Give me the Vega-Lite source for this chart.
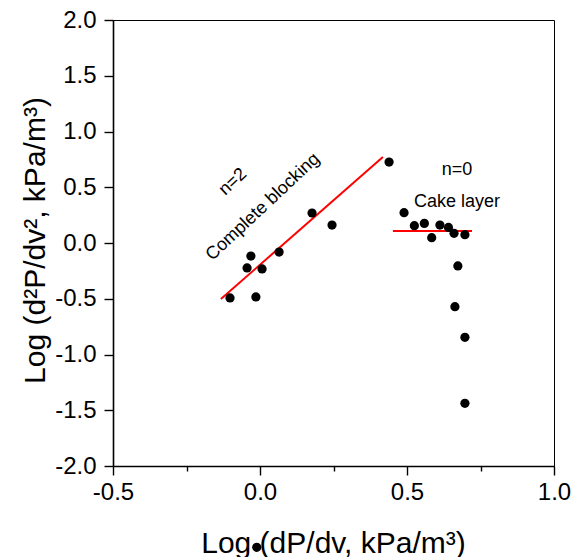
{
  "$schema": "https://vega.github.io/schema/vega-lite/v6.json",
  "width": 441,
  "height": 446,
  "autosize": {"type": "none"},
  "padding": {"left": 113, "top": 20, "right": 20, "bottom": 91},
  "background": "white",
  "config": {
    "font": "Liberation Sans",
    "view": {"stroke": "black", "strokeWidth": 1},
    "axis": {
      "domainColor": "black",
      "domainWidth": 1.6,
      "tickColor": "black",
      "tickWidth": 1.4,
      "grid": false,
      "labelFont": "Liberation Sans",
      "labelFontSize": 24,
      "labelColor": "black",
      "titleFont": "Liberation Sans",
      "titleFontWeight": "normal",
      "titleColor": "black",
      "titleFontSize": 30
    }
  },
  "datasets": {
    "pts": [
      {"x": -0.102, "y": -0.493},
      {"x": -0.014, "y": -0.484},
      {"x": -0.044, "y": -0.224},
      {"x": -0.031, "y": -0.117},
      {"x": 0.007, "y": -0.233},
      {"x": 0.065, "y": -0.081},
      {"x": 0.177, "y": 0.269},
      {"x": 0.245, "y": 0.161},
      {"x": 0.439, "y": 0.726},
      {"x": 0.490, "y": 0.272},
      {"x": 0.525, "y": 0.155},
      {"x": 0.559, "y": 0.176},
      {"x": 0.584, "y": 0.048},
      {"x": 0.612, "y": 0.161},
      {"x": 0.641, "y": 0.140},
      {"x": 0.660, "y": 0.087},
      {"x": 0.697, "y": 0.075},
      {"x": 0.673, "y": -0.206},
      {"x": 0.663, "y": -0.571},
      {"x": 0.697, "y": -0.846},
      {"x": 0.697, "y": -1.438},
      {"x": -0.011, "y": -2.729}
    ],
    "fits": [
      {"fit": "blocking", "x": -0.133, "y": -0.502},
      {"fit": "blocking", "x": 0.418, "y": 0.771},
      {"fit": "cake", "x": 0.452, "y": 0.108},
      {"fit": "cake", "x": 0.721, "y": 0.108}
    ],
    "labels": [
      {"label": "n=2", "x": -0.092, "y": 0.547, "angle": -43},
      {"label": "Complete blocking", "x": 0.010, "y": 0.323, "angle": -43},
      {"label": "n=0", "x": 0.670, "y": 0.655, "angle": 0},
      {"label": "Cake layer", "x": 0.670, "y": 0.368, "angle": 0}
    ]
  },
  "layer": [
    {
      "data": {"name": "fits"},
      "mark": {"type": "line", "color": "#ff0000", "strokeWidth": 2},
      "encoding": {
        "x": {
          "field": "x", "type": "quantitative",
          "scale": {"domain": [-0.5, 1.0], "nice": false, "zero": false},
          "axis": {
            "values": [-0.5, -0.25, 0, 0.25, 0.5, 0.75, 1.0],
            "labelExpr": "datum.value % 0.5 === 0 ? replace(format(datum.value, '.1f'), '−', '-') : ''",
            "tickSize": {"condition": {"test": "datum.value % 0.5 === 0", "value": 9}, "value": 5},
            "labelPadding": 5,
            "labelOverlap": false,
            "labelFlush": false,
            "title": "Log (dP/dv, kPa/m³)",
            "titleX": 220,
            "titleY": 86,
            "titleBaseline": "alphabetic",
            "titleAlign": "center"
          }
        },
        "y": {
          "field": "y", "type": "quantitative",
          "scale": {"domain": [-2.0, 2.0], "nice": false, "zero": false},
          "axis": {
            "values": [-2, -1.75, -1.5, -1.25, -1, -0.75, -0.5, -0.25, 0, 0.25, 0.5, 0.75, 1, 1.25, 1.5, 1.75, 2],
            "labelExpr": "datum.value % 0.5 === 0 ? replace(format(datum.value, '.1f'), '−', '-') : ''",
            "tickSize": {"condition": {"test": "datum.value % 0.5 === 0", "value": 9}, "value": 5},
            "labelPadding": 8,
            "labelOverlap": false,
            "labelFlush": false,
            "title": "Log (d²P/dv², kPa/m³)",
            "titleX": -78,
            "titleY": 220,
            "titleAngle": -90,
            "titleBaseline": "middle",
            "titleAlign": "center"
          }
        },
        "detail": {"field": "fit", "type": "nominal"}
      }
    },
    {
      "data": {"name": "pts"},
      "mark": {"type": "point", "filled": true, "color": "black", "opacity": 1, "size": 85, "clip": false},
      "encoding": {
        "x": {"field": "x", "type": "quantitative"},
        "y": {"field": "y", "type": "quantitative"}
      }
    },
    {
      "data": {"name": "labels"},
      "mark": {"type": "text", "fontSize": 18, "color": "black", "align": "center", "baseline": "middle", "font": "Liberation Sans"},
      "encoding": {
        "x": {"field": "x", "type": "quantitative"},
        "y": {"field": "y", "type": "quantitative"},
        "text": {"field": "label"},
        "angle": {"field": "angle", "type": "quantitative", "scale": null}
      }
    }
  ]
}
